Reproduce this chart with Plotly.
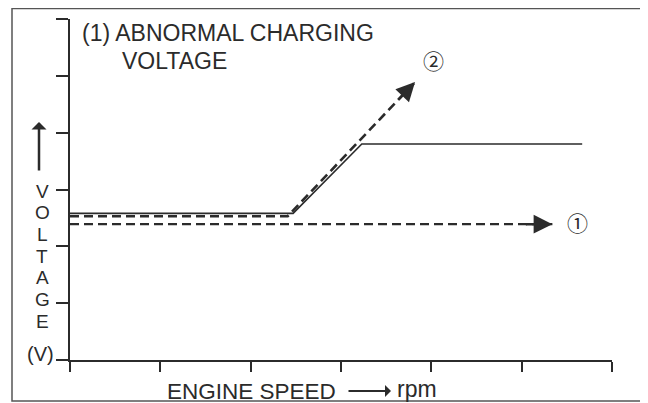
import plotly.graph_objects as go

# engine speed (x) / voltage (y) in arbitrary grid units (6 divisions each)
x_ticks = [0, 1, 2, 3, 4, 5, 6]
y_ticks = [0, 1, 2, 3, 4, 5, 6]

# normal regulated curve (solid)
normal_x = [0, 2.47, 3.23, 5.67]
normal_y = [2.58, 2.58, 3.80, 3.80]

# abnormal case 2: keeps rising (dashed)
rise_x = [0, 2.41, 3.82]
rise_y = [2.53, 2.53, 4.89]

# abnormal case 1: stays low (dashed)
low_x = [0, 5.34]
low_y = [2.39, 2.39]

OFF = 8  # page body margin
W, H = 648 - OFF, 403 - OFF
L, R, T, B = 70 - OFF, 36, 19 - OFF, 43
ink = "#2b2b2b"
font = "Liberation Sans, Arial, sans-serif"


def px(x):
    return (x - OFF - L) / (W - L - R)


def py(y):
    return (H - B - (y - OFF)) / (H - T - B)


def label(text, x, y, size=22, xanchor="center"):
    fig.add_annotation(xref="paper", yref="paper", x=px(x), y=py(y),
                       xanchor=xanchor, yanchor="middle", text=text,
                       showarrow=False, font=dict(size=size, color=ink, family=font))


fig = go.Figure()
fig.add_trace(go.Scatter(x=normal_x, y=normal_y, mode="lines",
                         line=dict(color=ink, width=1.6)))
fig.add_trace(go.Scatter(x=rise_x, y=rise_y, mode="lines",
                         line=dict(color=ink, width=2.6, dash="9px,5px")))
fig.add_trace(go.Scatter(x=low_x, y=low_y, mode="lines",
                         line=dict(color=ink, width=2.2, dash="9px,5px")))

# arrowheads at the end of the dashed lines
fig.add_annotation(x=rise_x[-1], y=rise_y[-1], ax=-18, ay=19, text="",
                   showarrow=True, arrowhead=2, arrowsize=1.5, arrowwidth=2.5,
                   arrowcolor=ink, standoff=0)
fig.add_annotation(x=low_x[-1], y=low_y[-1], ax=-28, ay=0, text="",
                   showarrow=True, arrowhead=2, arrowsize=1.5, arrowwidth=2.5,
                   arrowcolor=ink, standoff=0)
circ = dict(size=21, color=ink, family="Noto Sans CJK JP")
fig.add_annotation(x=rise_x[-1] + 0.2, y=rise_y[-1] + 0.39, text="②",
                   showarrow=False, xanchor="center", yanchor="middle", font=circ)
fig.add_annotation(x=low_x[-1] + 0.28, y=low_y[-1] + 0.04, text="①",
                   showarrow=False, xanchor="center", yanchor="middle", font=circ)

# title
label("(1) ABNORMAL CHARGING", 80, 33, size=23, xanchor="left")
label("VOLTAGE", 120, 61, size=23, xanchor="left")

# vertical axis label, stacked letters
for i, ch in enumerate("VOLTAGE"):
    label(ch, 42, 191 + i * 21.7, size=19)
label("(V)", 40, 354, size=20)
fig.add_annotation(xref="paper", yref="paper", x=px(39), y=py(122), ax=0, ay=50,
                   text="", showarrow=True, arrowhead=1, arrowsize=1.0,
                   arrowwidth=2.5, arrowcolor=ink, standoff=0)

# horizontal axis label
label("ENGINE SPEED", 165, 391, size=22.5, xanchor="left")
fig.add_annotation(xref="paper", yref="paper", x=px(391), y=py(391), ax=-44, ay=0,
                   text="", showarrow=True, arrowhead=1, arrowsize=1.0,
                   arrowwidth=2, arrowcolor=ink, standoff=0)
label("rpm", 395, 389, size=23, xanchor="left")

# outer frame
fig.add_shape(type="rect", xref="paper", yref="paper",
              x0=px(12), x1=px(643), y0=py(401), y1=py(8.5),
              line=dict(color="#555555", width=1.5))

axis_style = dict(showline=True, linecolor=ink, linewidth=1.6, showgrid=False,
                  zeroline=False, ticks="outside", tickcolor=ink, tickwidth=1.5,
                  showticklabels=False, range=[0, 6], fixedrange=True)
fig.update_xaxes(tickvals=x_ticks, ticklen=10, **axis_style)
fig.update_yaxes(tickvals=y_ticks, ticklen=12, **axis_style)

fig.update_layout(width=W, height=H, margin=dict(l=L, r=R, t=T, b=B),
                  paper_bgcolor="white", plot_bgcolor="white", showlegend=False)

fig.write_html("out.html")
